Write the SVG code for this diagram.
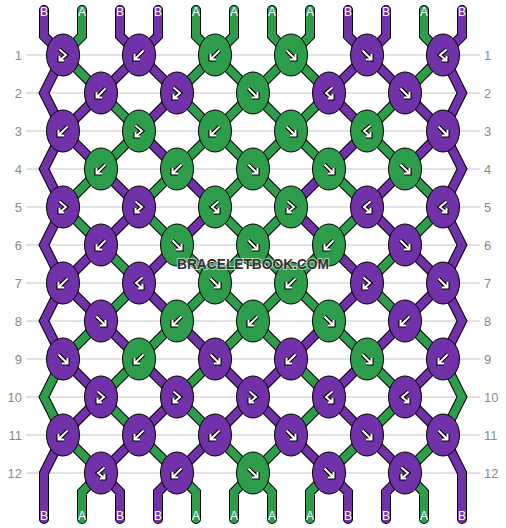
<svg xmlns="http://www.w3.org/2000/svg" xmlns:xlink="http://www.w3.org/1999/xlink" width="506" height="528" viewBox="0 0 506 528">
<style>
.grid{stroke:#c4c4c4;stroke-width:1}
.rl{font-family:"Liberation Sans",Arial,sans-serif;font-size:13px;fill:#8a8a8a}
.sl{font-family:"Liberation Sans",Arial,sans-serif;font-size:12px;fill:#ffffff;text-anchor:middle}
.so{fill:none;stroke:#000;stroke-width:10;stroke-linecap:round;stroke-linejoin:miter;stroke-miterlimit:4}
.sp{fill:none;stroke:#7131a8;stroke-width:8;stroke-linecap:round;stroke-linejoin:miter;stroke-miterlimit:4}
.sg{fill:none;stroke:#2e9d4b;stroke-width:8;stroke-linecap:round;stroke-linejoin:miter;stroke-miterlimit:4}
.kp{fill:#7131a8;stroke:#000;stroke-width:1}
.kg{fill:#2e9d4b;stroke:#000;stroke-width:1}
.ao{fill:none;stroke:#000;stroke-width:4.2;stroke-linejoin:miter}
.ai{fill:none;stroke:#fff;stroke-width:2;stroke-linejoin:miter}
.wm{font-family:"Liberation Sans",Arial,sans-serif;font-weight:bold;font-size:14.5px;fill:#333;stroke:#fff;stroke-width:2;stroke-opacity:0.6;paint-order:stroke;text-anchor:middle}
</style>
<defs>
<g id="fw"><path class="ao" d="M-4.5 -4.5L4.5 4.5M4.5 -1V4.5H-1"/><path class="ai" d="M-4.5 -4.5L4.5 4.5M4.5 -1V4.5H-1"/></g>
<g id="bk"><path class="ao" d="M4.5 -4.5L-4.5 4.5M-4.5 -1V4.5H1"/><path class="ai" d="M4.5 -4.5L-4.5 4.5M-4.5 -1V4.5H1"/></g>
<g id="fb"><path class="ao" d="M-3.5 -5.5L3 0L-3.5 5.5M-3.5 1V5.5H1"/><path class="ai" d="M-3.5 -5.5L3 0L-3.5 5.5M-3.5 1V5.5H1"/></g>
<g id="bf"><path class="ao" d="M3.5 -5.5L-3 0L3.5 5.5M3.5 1V5.5H-1"/><path class="ai" d="M3.5 -5.5L-3 0L3.5 5.5M3.5 1V5.5H-1"/></g>
</defs>
<rect width="506" height="528" fill="#fff"/>
<g id="grid">
<path class="grid" d="M26 55H480M26 93H480M26 131H480M26 169H480M26 207H480M26 245H480M26 283H480M26 321H480M26 359H480M26 397H480M26 435H480M26 473H480"/>
</g>
<g id="row-labels">
<text class="rl" x="22" y="60" text-anchor="end">1</text><text class="rl" x="484" y="60">1</text>
<text class="rl" x="22" y="98" text-anchor="end">2</text><text class="rl" x="484" y="98">2</text>
<text class="rl" x="22" y="136" text-anchor="end">3</text><text class="rl" x="484" y="136">3</text>
<text class="rl" x="22" y="174" text-anchor="end">4</text><text class="rl" x="484" y="174">4</text>
<text class="rl" x="22" y="212" text-anchor="end">5</text><text class="rl" x="484" y="212">5</text>
<text class="rl" x="22" y="250" text-anchor="end">6</text><text class="rl" x="484" y="250">6</text>
<text class="rl" x="22" y="288" text-anchor="end">7</text><text class="rl" x="484" y="288">7</text>
<text class="rl" x="22" y="326" text-anchor="end">8</text><text class="rl" x="484" y="326">8</text>
<text class="rl" x="22" y="364" text-anchor="end">9</text><text class="rl" x="484" y="364">9</text>
<text class="rl" x="22" y="402" text-anchor="end">10</text><text class="rl" x="484" y="402">10</text>
<text class="rl" x="22" y="440" text-anchor="end">11</text><text class="rl" x="484" y="440">11</text>
<text class="rl" x="22" y="478" text-anchor="end">12</text><text class="rl" x="484" y="478">12</text>
</g>
<g id="connectors">
<path class="so" d="M44 10V36L63 55M120 10V36L139 55M158 10V36L139 55M348 10V36L367 55M386 10V36L367 55M462 10V36L443 55M82 10V36L63 55M196 10V36L215 55M234 10V36L215 55M272 10V36L291 55M310 10V36L291 55M424 10V36L443 55
M63 55L101 93M215 55L177 93M215 55L253 93M291 55L253 93M291 55L329 93M443 55L405 93M139 55L101 93M139 55L177 93M367 55L329 93M367 55L405 93
M101 93L63 131M177 93L139 131M329 93L367 131M405 93L443 131M101 93L139 131M177 93L215 131M253 93L215 131M253 93L291 131M329 93L291 131M405 93L367 131
M63 131L101 169M139 131L177 169M367 131L329 169M443 131L405 169M139 131L101 169M215 131L177 169M215 131L253 169M291 131L253 169M291 131L329 169M367 131L405 169
M101 169L63 207M177 169L139 207M253 169L215 207M253 169L291 207M329 169L367 207M405 169L443 207M101 169L139 207M177 169L215 207M329 169L291 207M405 169L367 207
M63 207L101 245M139 207L177 245M215 207L253 245M291 207L253 245M367 207L329 245M443 207L405 245M139 207L101 245M215 207L177 245M291 207L329 245M367 207L405 245
M101 245L63 283M177 245L139 283M329 245L367 283M405 245L443 283M101 245L139 283M177 245L215 283M253 245L215 283M253 245L291 283M329 245L291 283M405 245L367 283
M63 283L101 321M139 283L177 321M367 283L329 321M443 283L405 321M139 283L101 321M215 283L177 321M215 283L253 321M291 283L253 321M291 283L329 321M367 283L405 321
M101 321L63 359M177 321L139 359M253 321L215 359M253 321L291 359M329 321L367 359M405 321L443 359M101 321L139 359M177 321L215 359M329 321L291 359M405 321L367 359
M63 359L101 397M139 359L177 397M215 359L253 397M291 359L253 397M367 359L329 397M443 359L405 397M139 359L101 397M215 359L177 397M291 359L329 397M367 359L405 397
M101 397L63 435M177 397L139 435M253 397L215 435M253 397L291 435M329 397L367 435M405 397L443 435M101 397L139 435M177 397L215 435M329 397L291 435M405 397L367 435
M63 435L101 473M139 435L177 473M215 435L253 473M291 435L253 473M367 435L329 473M443 435L405 473M139 435L101 473M215 435L177 473M291 435L329 473M367 435L405 473
M101 473L82 492V519M177 473L196 492V519M253 473L234 492V519M253 473L272 492V519M329 473L310 492V519M405 473L424 492V519M101 473L120 492V519M177 473L158 492V519M329 473L348 492V519M405 473L386 492V519
M63 55L44 93L63 131M63 131L44 169L63 207M63 207L44 245L63 283M63 283L44 321L63 359M63 359L44 397L63 435M63 435L44 473V519
M443 55L462 93L443 131M443 131L462 169L443 207M443 207L462 245L443 283M443 283L462 321L443 359M443 359L462 397L443 435M443 435L462 473V519"/>
<path class="sp" d="M44 10V36L63 55M120 10V36L139 55M158 10V36L139 55M348 10V36L367 55M386 10V36L367 55M462 10V36L443 55
M139 55L101 93M139 55L177 93M367 55L329 93M367 55L405 93
M101 93L63 131M177 93L139 131M329 93L367 131M405 93L443 131
M63 131L101 169M139 131L177 169M367 131L329 169M443 131L405 169
M101 169L139 207M177 169L215 207M329 169L291 207M405 169L367 207
M139 207L101 245M215 207L177 245M291 207L329 245M367 207L405 245
M101 245L63 283M177 245L139 283M329 245L367 283M405 245L443 283
M63 283L101 321M139 283L177 321M367 283L329 321M443 283L405 321
M101 321L139 359M177 321L215 359M329 321L291 359M405 321L367 359
M63 359L101 397M139 359L177 397M215 359L253 397M291 359L253 397M367 359L329 397M443 359L405 397
M101 397L63 435M177 397L139 435M253 397L215 435M253 397L291 435M329 397L367 435M405 397L443 435
M139 435L101 473M215 435L177 473M291 435L329 473M367 435L405 473
M101 473L120 492V519M177 473L158 492V519M329 473L348 492V519M405 473L386 492V519
M63 55L44 93L63 131M63 131L44 169L63 207M63 207L44 245L63 283M63 283L44 321L63 359M63 435L44 473V519
M443 55L462 93L443 131M443 131L462 169L443 207M443 207L462 245L443 283M443 283L462 321L443 359M443 435L462 473V519"/>
<path class="sg" d="M82 10V36L63 55M196 10V36L215 55M234 10V36L215 55M272 10V36L291 55M310 10V36L291 55M424 10V36L443 55
M63 55L101 93M215 55L177 93M215 55L253 93M291 55L253 93M291 55L329 93M443 55L405 93
M101 93L139 131M177 93L215 131M253 93L215 131M253 93L291 131M329 93L291 131M405 93L367 131
M139 131L101 169M215 131L177 169M215 131L253 169M291 131L253 169M291 131L329 169M367 131L405 169
M101 169L63 207M177 169L139 207M253 169L215 207M253 169L291 207M329 169L367 207M405 169L443 207
M63 207L101 245M139 207L177 245M215 207L253 245M291 207L253 245M367 207L329 245M443 207L405 245
M101 245L139 283M177 245L215 283M253 245L215 283M253 245L291 283M329 245L291 283M405 245L367 283
M139 283L101 321M215 283L177 321M215 283L253 321M291 283L253 321M291 283L329 321M367 283L405 321
M101 321L63 359M177 321L139 359M253 321L215 359M253 321L291 359M329 321L367 359M405 321L443 359
M139 359L101 397M215 359L177 397M291 359L329 397M367 359L405 397
M101 397L139 435M177 397L215 435M329 397L291 435M405 397L367 435
M63 435L101 473M139 435L177 473M215 435L253 473M291 435L253 473M367 435L329 473M443 435L405 473
M101 473L82 492V519M177 473L196 492V519M253 473L234 492V519M253 473L272 492V519M329 473L310 492V519M405 473L424 492V519
M63 359L44 397L63 435M443 359L462 397L443 435"/>
</g>
<g id="string-labels">
<text class="sl" x="44" y="16">B</text><text class="sl" x="82" y="16">A</text><text class="sl" x="120" y="16">B</text><text class="sl" x="158" y="16">B</text><text class="sl" x="196" y="16">A</text><text class="sl" x="234" y="16">A</text><text class="sl" x="272" y="16">A</text><text class="sl" x="310" y="16">A</text><text class="sl" x="348" y="16">B</text><text class="sl" x="386" y="16">B</text><text class="sl" x="424" y="16">A</text><text class="sl" x="462" y="16">B</text>
<text class="sl" x="44" y="520">B</text><text class="sl" x="82" y="520">A</text><text class="sl" x="120" y="520">B</text><text class="sl" x="158" y="520">B</text><text class="sl" x="196" y="520">A</text><text class="sl" x="234" y="520">A</text><text class="sl" x="272" y="520">A</text><text class="sl" x="310" y="520">A</text><text class="sl" x="348" y="520">B</text><text class="sl" x="386" y="520">B</text><text class="sl" x="424" y="520">A</text><text class="sl" x="462" y="520">B</text>
</g>
<g id="knots">
<g id="k1-1"><ellipse class="kp" cx="63" cy="55" rx="16.5" ry="21"/><use href="#fb" x="63" y="55"/></g>
<g id="k1-2"><ellipse class="kp" cx="139" cy="55" rx="16.5" ry="21"/><use href="#bk" x="139" y="55"/></g>
<g id="k1-3"><ellipse class="kg" cx="215" cy="55" rx="16.5" ry="21"/><use href="#bk" x="215" y="55"/></g>
<g id="k1-4"><ellipse class="kg" cx="291" cy="55" rx="16.5" ry="21"/><use href="#fw" x="291" y="55"/></g>
<g id="k1-5"><ellipse class="kp" cx="367" cy="55" rx="16.5" ry="21"/><use href="#fw" x="367" y="55"/></g>
<g id="k1-6"><ellipse class="kp" cx="443" cy="55" rx="16.5" ry="21"/><use href="#bf" x="443" y="55"/></g>
<g id="k2-1"><ellipse class="kp" cx="101" cy="93" rx="16.5" ry="21"/><use href="#bk" x="101" y="93"/></g>
<g id="k2-2"><ellipse class="kp" cx="177" cy="93" rx="16.5" ry="21"/><use href="#fb" x="177" y="93"/></g>
<g id="k2-3"><ellipse class="kg" cx="253" cy="93" rx="16.5" ry="21"/><use href="#fw" x="253" y="93"/></g>
<g id="k2-4"><ellipse class="kp" cx="329" cy="93" rx="16.5" ry="21"/><use href="#bf" x="329" y="93"/></g>
<g id="k2-5"><ellipse class="kp" cx="405" cy="93" rx="16.5" ry="21"/><use href="#fw" x="405" y="93"/></g>
<g id="k3-1"><ellipse class="kp" cx="63" cy="131" rx="16.5" ry="21"/><use href="#bk" x="63" y="131"/></g>
<g id="k3-2"><ellipse class="kg" cx="139" cy="131" rx="16.5" ry="21"/><use href="#fb" x="139" y="131"/></g>
<g id="k3-3"><ellipse class="kg" cx="215" cy="131" rx="16.5" ry="21"/><use href="#bk" x="215" y="131"/></g>
<g id="k3-4"><ellipse class="kg" cx="291" cy="131" rx="16.5" ry="21"/><use href="#fw" x="291" y="131"/></g>
<g id="k3-5"><ellipse class="kg" cx="367" cy="131" rx="16.5" ry="21"/><use href="#bf" x="367" y="131"/></g>
<g id="k3-6"><ellipse class="kp" cx="443" cy="131" rx="16.5" ry="21"/><use href="#fw" x="443" y="131"/></g>
<g id="k4-1"><ellipse class="kg" cx="101" cy="169" rx="16.5" ry="21"/><use href="#bk" x="101" y="169"/></g>
<g id="k4-2"><ellipse class="kg" cx="177" cy="169" rx="16.5" ry="21"/><use href="#bk" x="177" y="169"/></g>
<g id="k4-3"><ellipse class="kg" cx="253" cy="169" rx="16.5" ry="21"/><use href="#fw" x="253" y="169"/></g>
<g id="k4-4"><ellipse class="kg" cx="329" cy="169" rx="16.5" ry="21"/><use href="#fw" x="329" y="169"/></g>
<g id="k4-5"><ellipse class="kg" cx="405" cy="169" rx="16.5" ry="21"/><use href="#fw" x="405" y="169"/></g>
<g id="k5-1"><ellipse class="kp" cx="63" cy="207" rx="16.5" ry="21"/><use href="#fb" x="63" y="207"/></g>
<g id="k5-2"><ellipse class="kp" cx="139" cy="207" rx="16.5" ry="21"/><use href="#fb" x="139" y="207"/></g>
<g id="k5-3"><ellipse class="kg" cx="215" cy="207" rx="16.5" ry="21"/><use href="#bf" x="215" y="207"/></g>
<g id="k5-4"><ellipse class="kg" cx="291" cy="207" rx="16.5" ry="21"/><use href="#fb" x="291" y="207"/></g>
<g id="k5-5"><ellipse class="kp" cx="367" cy="207" rx="16.5" ry="21"/><use href="#bf" x="367" y="207"/></g>
<g id="k5-6"><ellipse class="kp" cx="443" cy="207" rx="16.5" ry="21"/><use href="#bf" x="443" y="207"/></g>
<g id="k6-1"><ellipse class="kp" cx="101" cy="245" rx="16.5" ry="21"/><use href="#bk" x="101" y="245"/></g>
<g id="k6-2"><ellipse class="kg" cx="177" cy="245" rx="16.5" ry="21"/><use href="#fw" x="177" y="245"/></g>
<g id="k6-3"><ellipse class="kg" cx="253" cy="245" rx="16.5" ry="21"/><use href="#fw" x="253" y="245"/></g>
<g id="k6-4"><ellipse class="kg" cx="329" cy="245" rx="16.5" ry="21"/><use href="#bk" x="329" y="245"/></g>
<g id="k6-5"><ellipse class="kp" cx="405" cy="245" rx="16.5" ry="21"/><use href="#fw" x="405" y="245"/></g>
<g id="k7-1"><ellipse class="kp" cx="63" cy="283" rx="16.5" ry="21"/><use href="#bk" x="63" y="283"/></g>
<g id="k7-2"><ellipse class="kp" cx="139" cy="283" rx="16.5" ry="21"/><use href="#bf" x="139" y="283"/></g>
<g id="k7-3"><ellipse class="kg" cx="215" cy="283" rx="16.5" ry="21"/><use href="#fw" x="215" y="283"/></g>
<g id="k7-4"><ellipse class="kg" cx="291" cy="283" rx="16.5" ry="21"/><use href="#bk" x="291" y="283"/></g>
<g id="k7-5"><ellipse class="kp" cx="367" cy="283" rx="16.5" ry="21"/><use href="#fb" x="367" y="283"/></g>
<g id="k7-6"><ellipse class="kp" cx="443" cy="283" rx="16.5" ry="21"/><use href="#fw" x="443" y="283"/></g>
<g id="k8-1"><ellipse class="kp" cx="101" cy="321" rx="16.5" ry="21"/><use href="#fw" x="101" y="321"/></g>
<g id="k8-2"><ellipse class="kg" cx="177" cy="321" rx="16.5" ry="21"/><use href="#bk" x="177" y="321"/></g>
<g id="k8-3"><ellipse class="kg" cx="253" cy="321" rx="16.5" ry="21"/><use href="#bk" x="253" y="321"/></g>
<g id="k8-4"><ellipse class="kg" cx="329" cy="321" rx="16.5" ry="21"/><use href="#fw" x="329" y="321"/></g>
<g id="k8-5"><ellipse class="kp" cx="405" cy="321" rx="16.5" ry="21"/><use href="#bk" x="405" y="321"/></g>
<g id="k9-1"><ellipse class="kp" cx="63" cy="359" rx="16.5" ry="21"/><use href="#fw" x="63" y="359"/></g>
<g id="k9-2"><ellipse class="kg" cx="139" cy="359" rx="16.5" ry="21"/><use href="#bk" x="139" y="359"/></g>
<g id="k9-3"><ellipse class="kp" cx="215" cy="359" rx="16.5" ry="21"/><use href="#fw" x="215" y="359"/></g>
<g id="k9-4"><ellipse class="kp" cx="291" cy="359" rx="16.5" ry="21"/><use href="#bk" x="291" y="359"/></g>
<g id="k9-5"><ellipse class="kg" cx="367" cy="359" rx="16.5" ry="21"/><use href="#fw" x="367" y="359"/></g>
<g id="k9-6"><ellipse class="kp" cx="443" cy="359" rx="16.5" ry="21"/><use href="#bk" x="443" y="359"/></g>
<g id="k10-1"><ellipse class="kp" cx="101" cy="397" rx="16.5" ry="21"/><use href="#fb" x="101" y="397"/></g>
<g id="k10-2"><ellipse class="kp" cx="177" cy="397" rx="16.5" ry="21"/><use href="#fb" x="177" y="397"/></g>
<g id="k10-3"><ellipse class="kp" cx="253" cy="397" rx="16.5" ry="21"/><use href="#fb" x="253" y="397"/></g>
<g id="k10-4"><ellipse class="kp" cx="329" cy="397" rx="16.5" ry="21"/><use href="#bf" x="329" y="397"/></g>
<g id="k10-5"><ellipse class="kp" cx="405" cy="397" rx="16.5" ry="21"/><use href="#bf" x="405" y="397"/></g>
<g id="k11-1"><ellipse class="kp" cx="63" cy="435" rx="16.5" ry="21"/><use href="#bk" x="63" y="435"/></g>
<g id="k11-2"><ellipse class="kp" cx="139" cy="435" rx="16.5" ry="21"/><use href="#bk" x="139" y="435"/></g>
<g id="k11-3"><ellipse class="kp" cx="215" cy="435" rx="16.5" ry="21"/><use href="#bk" x="215" y="435"/></g>
<g id="k11-4"><ellipse class="kp" cx="291" cy="435" rx="16.5" ry="21"/><use href="#fw" x="291" y="435"/></g>
<g id="k11-5"><ellipse class="kp" cx="367" cy="435" rx="16.5" ry="21"/><use href="#fw" x="367" y="435"/></g>
<g id="k11-6"><ellipse class="kp" cx="443" cy="435" rx="16.5" ry="21"/><use href="#fw" x="443" y="435"/></g>
<g id="k12-1"><ellipse class="kp" cx="101" cy="473" rx="16.5" ry="21"/><use href="#bf" x="101" y="473"/></g>
<g id="k12-2"><ellipse class="kp" cx="177" cy="473" rx="16.5" ry="21"/><use href="#bk" x="177" y="473"/></g>
<g id="k12-3"><ellipse class="kg" cx="253" cy="473" rx="16.5" ry="21"/><use href="#fw" x="253" y="473"/></g>
<g id="k12-4"><ellipse class="kp" cx="329" cy="473" rx="16.5" ry="21"/><use href="#fw" x="329" y="473"/></g>
<g id="k12-5"><ellipse class="kp" cx="405" cy="473" rx="16.5" ry="21"/><use href="#fb" x="405" y="473"/></g>
</g>
<text id="watermark" class="wm" x="253" y="269" textLength="152" lengthAdjust="spacingAndGlyphs">BRACELETBOOK.COM</text>
</svg>
